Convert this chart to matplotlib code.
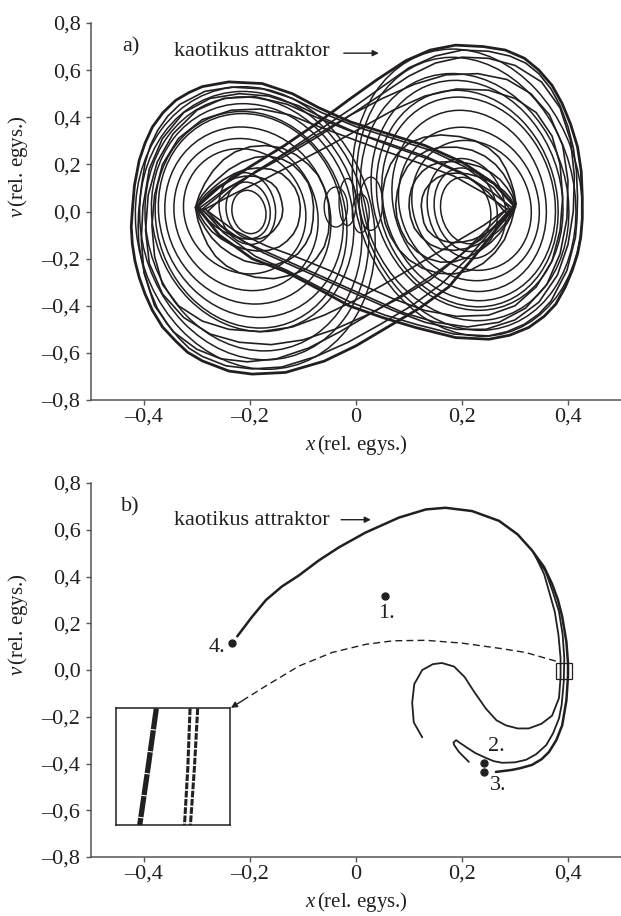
"""Chaotic attractor of a driven double-well oscillator: trajectory (a) and
stroboscopic snapshot (b), redrawn from traced values."""

import matplotlib

matplotlib.use("Agg")
import matplotlib.pyplot as plt
from matplotlib.patches import Ellipse, Rectangle

plt.rcParams["font.family"] = ["Liberation Serif", "DejaVu Serif"]
plt.rcParams["mathtext.fontset"] = "custom"
plt.rcParams["mathtext.rm"] = "Liberation Serif"
plt.rcParams["mathtext.it"] = "Liberation Serif:italic"

INK = "#231f20"
AXC = "#555555"
FS = 16

# --- axes ---
x_ticks = [-0.4, -0.2, 0.0, 0.2, 0.4]
x_ticklabels = ["\u20130,4", "\u20130,2", "0", "0,2", "0,4"]
y_ticks = [-0.8, -0.6, -0.4, -0.2, 0.0, 0.2, 0.4, 0.6, 0.8]
y_ticklabels = ["\u20130,8", "\u20130,6", "\u20130,4", "\u20130,2", "0,0",
                "0,2", "0,4", "0,6", "0,8"]
x_label = r"$x\,$(rel. egys.)"
y_label = r"$v\,$(rel. egys.)"
attractor_text = "kaotikus attraktor"

# --- panel a: loops around the wells (centre x, centre v, width, height) ---
left_cx = [-0.202, -0.2035, -0.205, -0.21, -0.2075, -0.204, -0.1985, -0.198,
           -0.195, -0.1935, -0.192, -0.19]
left_cv = [-0.002, 0.005, 0.0125, 0.001, -0.013, -0.017, -0.017, -0.035,
           -0.026, -0.0525, -0.06, -0.07]
left_w = [0.064, 0.083, 0.106, 0.23, 0.271, 0.312, 0.347, 0.36,
          0.38, 0.407, 0.43, 0.45]
left_h = [0.184, 0.24, 0.305, 0.532, 0.646, 0.752, 0.866, 0.92,
          0.968, 1.079, 1.14, 1.2]

right_cx = [0.207, 0.207, 0.2085, 0.218, 0.213, 0.2135, 0.2125, 0.21,
            0.2095, 0.205, 0.208, 0.21]
right_cv = [0.004, 0.0075, 0.0125, 0.026, 0.032, 0.045, 0.0535, 0.055,
            0.0685, 0.061, 0.075, 0.08]
right_w = [0.094, 0.118, 0.147, 0.224, 0.264, 0.289, 0.325, 0.34,
           0.359, 0.39, 0.41, 0.43]
right_h = [0.282, 0.355, 0.425, 0.552, 0.652, 0.77, 0.865, 0.92,
           0.977, 1.05, 1.16, 1.22]

# small loops near the barrier top
mid_cx = [-0.038, -0.016, 0.009, 0.028]
mid_cv = [0.019, 0.04, -0.008, 0.033]
mid_w = [0.044, 0.032, 0.032, 0.044]
mid_h = [0.17, 0.2, 0.165, 0.226]

# loops turning at the cusps (x, v)
right_tear_1 = [(0.301, 0.033), (0.296, 0.08), (0.289, 0.117), (0.278, 0.16), (0.263, 0.20),
                (0.243, 0.235), (0.219, 0.26), (0.19, 0.273), (0.157, 0.272), (0.133, 0.257),
                (0.113, 0.231), (0.097, 0.19), (0.085, 0.14), (0.078, 0.085), (0.075, 0.03),
                (0.077, -0.025), (0.085, -0.08), (0.097, -0.13), (0.115, -0.17), (0.136, -0.20),
                (0.16, -0.215), (0.186, -0.213), (0.21, -0.195), (0.234, -0.166), (0.255, -0.13),
                (0.272, -0.09), (0.285, -0.05), (0.295, -0.01), (0.301, 0.033)]
right_tear_2 = [(0.30, 0.03), (0.294, 0.068), (0.285, 0.10), (0.272, 0.135), (0.255, 0.165),
                (0.234, 0.19), (0.21, 0.205), (0.185, 0.212), (0.16, 0.21), (0.14, 0.195),
                (0.125, 0.17), (0.113, 0.137), (0.105, 0.10), (0.101, 0.06), (0.10, 0.02),
                (0.103, -0.025), (0.11, -0.07), (0.123, -0.108), (0.14, -0.14), (0.161, -0.16),
                (0.185, -0.165), (0.208, -0.157), (0.23, -0.14), (0.252, -0.112), (0.27, -0.08),
                (0.282, -0.05), (0.29, -0.02), (0.30, 0.03)]
right_tear_3 = [(0.298, 0.03), (0.29, 0.06), (0.28, 0.085), (0.266, 0.11), (0.25, 0.13),
                (0.23, 0.148), (0.21, 0.16), (0.19, 0.163), (0.17, 0.16), (0.153, 0.143),
                (0.14, 0.12), (0.13, 0.09), (0.125, 0.06), (0.123, 0.025), (0.125, -0.01),
                (0.128, -0.048), (0.135, -0.08), (0.148, -0.107), (0.165, -0.125), (0.182, -0.132),
                (0.20, -0.13), (0.22, -0.12), (0.24, -0.10), (0.258, -0.072), (0.275, -0.04),
                (0.288, -0.005), (0.298, 0.03)]
right_tear_4 = [(0.302, 0.033), (0.298, 0.085), (0.292, 0.13), (0.283, 0.18), (0.27, 0.23),
                (0.25, 0.27), (0.225, 0.30), (0.195, 0.318), (0.16, 0.325), (0.128, 0.315),
                (0.10, 0.29), (0.08, 0.25), (0.065, 0.20), (0.055, 0.14), (0.05, 0.08),
                (0.05, 0.015), (0.055, -0.05), (0.065, -0.105), (0.08, -0.16), (0.10, -0.205),
                (0.125, -0.24), (0.155, -0.262), (0.185, -0.265), (0.215, -0.25), (0.24, -0.22),
                (0.262, -0.175), (0.28, -0.12), (0.293, -0.045), (0.302, 0.033)]
left_tear_1 = [(-0.302, 0.017), (-0.296, -0.028), (-0.285, -0.07), (-0.272, -0.112), (-0.255, -0.15),
               (-0.234, -0.183), (-0.21, -0.21), (-0.18, -0.224), (-0.15, -0.225), (-0.128, -0.207),
               (-0.11, -0.18), (-0.095, -0.137), (-0.085, -0.09), (-0.081, -0.035), (-0.08, 0.02),
               (-0.083, 0.072), (-0.09, 0.12), (-0.103, 0.162), (-0.12, 0.20), (-0.14, 0.223),
               (-0.165, 0.235), (-0.19, 0.23), (-0.215, 0.21), (-0.24, 0.178), (-0.26, 0.14),
               (-0.277, 0.105), (-0.29, 0.07), (-0.298, 0.042), (-0.302, 0.017)]
left_tear_2 = [(-0.30, 0.017), (-0.294, -0.018), (-0.285, -0.05), (-0.272, -0.085), (-0.255, -0.115),
               (-0.234, -0.142), (-0.21, -0.16), (-0.186, -0.168), (-0.165, -0.165), (-0.145, -0.15),
               (-0.13, -0.125), (-0.118, -0.095), (-0.11, -0.06), (-0.106, -0.02), (-0.105, 0.02),
               (-0.108, 0.062), (-0.115, 0.10), (-0.126, 0.132), (-0.14, 0.16), (-0.16, 0.179),
               (-0.185, 0.185), (-0.21, 0.178), (-0.23, 0.16), (-0.252, 0.132), (-0.27, 0.10),
               (-0.283, 0.073), (-0.292, 0.05), (-0.30, 0.017)]
left_tear_3 = [(-0.298, 0.017), (-0.29, -0.01), (-0.28, -0.035), (-0.266, -0.062), (-0.25, -0.085),
               (-0.232, -0.103), (-0.215, -0.115), (-0.197, -0.118), (-0.18, -0.115), (-0.165, -0.10),
               (-0.155, -0.08), (-0.146, -0.053), (-0.14, -0.025), (-0.138, 0.008), (-0.14, 0.04),
               (-0.144, 0.072), (-0.15, 0.10), (-0.16, 0.122), (-0.175, 0.14), (-0.192, 0.15),
               (-0.21, 0.15), (-0.228, 0.142), (-0.245, 0.125), (-0.262, 0.103), (-0.275, 0.08),
               (-0.288, 0.05), (-0.298, 0.017)]
left_tear_4 = [(-0.303, 0.017), (-0.298, -0.04), (-0.29, -0.09), (-0.28, -0.14), (-0.265, -0.19),
               (-0.245, -0.23), (-0.22, -0.26), (-0.19, -0.279), (-0.155, -0.285), (-0.122, -0.27),
               (-0.095, -0.245), (-0.075, -0.20), (-0.06, -0.15), (-0.052, -0.09), (-0.05, -0.03),
               (-0.052, 0.035), (-0.06, 0.10), (-0.072, 0.155), (-0.09, 0.20), (-0.113, 0.24),
               (-0.14, 0.27), (-0.17, 0.28), (-0.20, 0.275), (-0.228, 0.253), (-0.25, 0.22),
               (-0.27, 0.172), (-0.285, 0.12), (-0.296, 0.068), (-0.303, 0.017)]

# big crossing loops: left cusp -> over the right well -> back
cross_r1 = [(-0.30, 0.02), (-0.26, 0.10), (-0.20, 0.19), (-0.135, 0.28), (-0.07, 0.38),
            (-0.01, 0.48), (0.04, 0.56), (0.094, 0.64), (0.14, 0.685), (0.188, 0.706),
            (0.24, 0.70), (0.282, 0.685), (0.318, 0.65), (0.345, 0.60), (0.37, 0.535),
            (0.389, 0.458), (0.405, 0.37), (0.418, 0.274), (0.425, 0.17), (0.427, 0.06),
            (0.427, -0.03), (0.424, -0.11), (0.418, -0.18), (0.408, -0.25), (0.395, -0.32),
            (0.377, -0.393), (0.355, -0.445), (0.326, -0.492), (0.29, -0.525), (0.251, -0.542),
            (0.188, -0.535), (0.112, -0.492), (0.05, -0.45), (-0.013, -0.40), (-0.07, -0.33),
            (-0.133, -0.255), (-0.196, -0.20), (-0.258, -0.10), (-0.30, 0.02)]
cross_r2 = [(-0.29, 0.01), (-0.24, 0.10), (-0.18, 0.18), (-0.12, 0.27), (-0.06, 0.36),
            (0.0, 0.45), (0.05, 0.53), (0.10, 0.61), (0.15, 0.66), (0.20, 0.685),
            (0.25, 0.68), (0.29, 0.66), (0.32, 0.63), (0.345, 0.585), (0.368, 0.52),
            (0.385, 0.45), (0.40, 0.36), (0.41, 0.27), (0.416, 0.17), (0.418, 0.06),
            (0.417, -0.03), (0.414, -0.11), (0.398, -0.25), (0.368, -0.38), (0.345, -0.435),
            (0.318, -0.478), (0.285, -0.51), (0.25, -0.528), (0.185, -0.52), (0.115, -0.48),
            (0.055, -0.44), (-0.01, -0.385), (-0.07, -0.32), (-0.13, -0.25), (-0.19, -0.19),
            (-0.25, -0.09), (-0.29, 0.01)]
cross_r3 = [(-0.28, 0.0), (-0.24, 0.085), (-0.19, 0.17), (-0.13, 0.25), (-0.07, 0.33),
            (-0.01, 0.41), (0.05, 0.48), (0.11, 0.54), (0.17, 0.58), (0.23, 0.585),
            (0.285, 0.56), (0.33, 0.50), (0.365, 0.41), (0.39, 0.28), (0.40, 0.13),
            (0.398, -0.03), (0.385, -0.18), (0.36, -0.31), (0.32, -0.41), (0.27, -0.47),
            (0.21, -0.49), (0.15, -0.47), (0.09, -0.43), (0.03, -0.37), (-0.03, -0.31),
            (-0.09, -0.25), (-0.15, -0.19), (-0.21, -0.13), (-0.255, -0.06), (-0.28, 0.0)]
cross_r4 = [(-0.295, 0.015), (-0.25, 0.09), (-0.19, 0.165), (-0.13, 0.24), (-0.07, 0.32),
            (-0.01, 0.41), (0.05, 0.50), (0.10, 0.575), (0.15, 0.63), (0.20, 0.655),
            (0.25, 0.65), (0.30, 0.62), (0.35, 0.55), (0.385, 0.44), (0.405, 0.30),
            (0.412, 0.15), (0.41, 0.0), (0.40, -0.14), (0.38, -0.27), (0.345, -0.385),
            (0.30, -0.46), (0.245, -0.50), (0.19, -0.50), (0.13, -0.47), (0.07, -0.42),
            (0.01, -0.36), (-0.05, -0.30), (-0.11, -0.24), (-0.175, -0.175), (-0.24, -0.09),
            (-0.295, 0.015)]
cross_r5 = [(-0.285, 0.01), (-0.23, 0.075), (-0.17, 0.14), (-0.11, 0.21), (-0.05, 0.28),
            (0.01, 0.355), (0.07, 0.43), (0.13, 0.49), (0.19, 0.52), (0.25, 0.515),
            (0.30, 0.48), (0.34, 0.42), (0.37, 0.32), (0.385, 0.20), (0.39, 0.06),
            (0.385, -0.08), (0.37, -0.21), (0.34, -0.32), (0.30, -0.40), (0.25, -0.44),
            (0.19, -0.445), (0.13, -0.42), (0.07, -0.37), (0.01, -0.31), (-0.05, -0.25),
            (-0.11, -0.195), (-0.17, -0.145), (-0.23, -0.08), (-0.285, 0.01)]
# right cusp -> under the left well -> back
cross_l1 = [(0.30, 0.02), (0.27, -0.06), (0.22, -0.20), (0.175, -0.32), (0.12, -0.41),
            (0.06, -0.49), (0.0, -0.57), (-0.06, -0.635), (-0.133, -0.683), (-0.196, -0.69),
            (-0.24, -0.677), (-0.29, -0.634), (-0.318, -0.597), (-0.34, -0.55), (-0.365, -0.49),
            (-0.384, -0.42), (-0.398, -0.35), (-0.409, -0.28), (-0.417, -0.21), (-0.422, -0.138),
            (-0.424, -0.065), (-0.422, 0.004), (-0.418, 0.11), (-0.409, 0.217), (-0.398, 0.29),
            (-0.384, 0.359), (-0.364, 0.42), (-0.34, 0.472), (-0.315, 0.505), (-0.29, 0.53),
            (-0.24, 0.55), (-0.177, 0.543), (-0.12, 0.50), (-0.07, 0.44), (-0.01, 0.38),
            (0.06, 0.33), (0.13, 0.28), (0.20, 0.21), (0.26, 0.12), (0.30, 0.02)]
cross_l2 = [(0.29, 0.01), (0.26, -0.07), (0.21, -0.20), (0.16, -0.31), (0.105, -0.40),
            (0.045, -0.48), (-0.015, -0.555), (-0.075, -0.615), (-0.14, -0.66), (-0.196, -0.668),
            (-0.245, -0.655), (-0.29, -0.615), (-0.315, -0.58), (-0.335, -0.535), (-0.357, -0.475),
            (-0.375, -0.41), (-0.388, -0.34), (-0.398, -0.27), (-0.405, -0.20), (-0.41, -0.13),
            (-0.411, -0.06), (-0.41, 0.0), (-0.405, 0.105), (-0.398, 0.205), (-0.388, 0.28),
            (-0.374, 0.345), (-0.355, 0.405), (-0.332, 0.455), (-0.285, 0.51), (-0.235, 0.528),
            (-0.175, 0.52), (-0.12, 0.48), (-0.065, 0.42), (0.0, 0.36), (0.07, 0.31),
            (0.14, 0.26), (0.205, 0.19), (0.26, 0.10), (0.29, 0.01)]
cross_l3 = [(0.28, 0.0), (0.245, -0.08), (0.195, -0.19), (0.14, -0.29), (0.08, -0.37),
            (0.02, -0.44), (-0.04, -0.50), (-0.10, -0.545), (-0.16, -0.565), (-0.22, -0.555),
            (-0.275, -0.52), (-0.325, -0.45), (-0.365, -0.35), (-0.39, -0.22), (-0.397, -0.08),
            (-0.392, 0.07), (-0.375, 0.21), (-0.345, 0.33), (-0.30, 0.43), (-0.25, 0.48),
            (-0.19, 0.487), (-0.13, 0.455), (-0.075, 0.40), (-0.015, 0.345), (0.06, 0.29),
            (0.13, 0.235), (0.20, 0.165), (0.25, 0.08), (0.28, 0.0)]
cross_l4 = [(0.295, 0.015), (0.255, -0.075), (0.20, -0.18), (0.145, -0.27), (0.09, -0.35),
            (0.03, -0.43), (-0.03, -0.51), (-0.09, -0.58), (-0.15, -0.625), (-0.205, -0.638),
            (-0.255, -0.625), (-0.30, -0.585), (-0.345, -0.51), (-0.38, -0.40), (-0.40, -0.26),
            (-0.405, -0.12), (-0.402, 0.02), (-0.39, 0.18), (-0.365, 0.31), (-0.325, 0.42),
            (-0.275, 0.48), (-0.22, 0.50), (-0.165, 0.49), (-0.11, 0.45), (-0.055, 0.39),
            (0.005, 0.33), (0.07, 0.275), (0.14, 0.22), (0.205, 0.155), (0.255, 0.085),
            (0.295, 0.015)]
cross_l5 = [(0.285, 0.01), (0.24, -0.06), (0.18, -0.14), (0.12, -0.22), (0.06, -0.30),
            (0.0, -0.375), (-0.06, -0.44), (-0.12, -0.49), (-0.18, -0.51), (-0.24, -0.50),
            (-0.29, -0.465), (-0.335, -0.40), (-0.365, -0.31), (-0.38, -0.19), (-0.385, -0.06),
            (-0.38, 0.07), (-0.365, 0.20), (-0.335, 0.31), (-0.29, 0.39), (-0.235, 0.43),
            (-0.18, 0.435), (-0.125, 0.41), (-0.07, 0.36), (-0.01, 0.31), (0.05, 0.26),
            (0.12, 0.205), (0.185, 0.15), (0.24, 0.08), (0.285, 0.01)]

# --- panel b: snapshot of the attractor ---
snap_main = [(-0.224, 0.144), (-0.197, 0.225), (-0.17, 0.299), (-0.14, 0.357), (-0.1075, 0.405),
             (-0.07, 0.469), (-0.032, 0.525), (0.018, 0.588), (0.081, 0.652), (0.132, 0.687),
             (0.169, 0.694), (0.219, 0.68), (0.27, 0.638), (0.305, 0.58), (0.332, 0.512),
             (0.355, 0.44), (0.37, 0.368), (0.381, 0.30), (0.389, 0.229), (0.397, 0.12),
             (0.40, 0.03), (0.40, -0.025), (0.397, -0.13), (0.389, -0.237), (0.378, -0.30),
             (0.364, -0.351), (0.35, -0.382), (0.332, -0.406), (0.31, -0.42), (0.294, -0.4275),
             (0.264, -0.436)]
snap_hairpin = [(0.335, 0.50), (0.358, 0.42), (0.372, 0.33), (0.383, 0.25), (0.39, 0.15),
                (0.393, 0.05), (0.392, -0.05), (0.388, -0.15), (0.383, -0.207), (0.372, -0.27),
                (0.359, -0.321), (0.34, -0.36), (0.321, -0.384), (0.30, -0.395), (0.276, -0.397),
                (0.26, -0.39), (0.245, -0.376), (0.225, -0.355), (0.208, -0.33), (0.195, -0.31),
                (0.189, -0.30), (0.184, -0.31), (0.185, -0.32), (0.194, -0.35), (0.205, -0.375),
                (0.213, -0.393)]
snap_fold = [(0.338, 0.49), (0.355, 0.41), (0.365, 0.33), (0.375, 0.25), (0.382, 0.15),
             (0.386, 0.05), (0.386, -0.03), (0.383, -0.12), (0.37, -0.195), (0.35, -0.23),
             (0.326, -0.25), (0.305, -0.25), (0.283, -0.237), (0.265, -0.215), (0.245, -0.165),
             (0.222, -0.09), (0.205, -0.03), (0.185, 0.015), (0.162, 0.03), (0.145, 0.025),
             (0.125, 0.0), (0.11, -0.06), (0.106, -0.14), (0.109, -0.224), (0.125, -0.288)]
snap_dash = [(0.377, 0.038), (0.32, 0.075), (0.27, 0.093), (0.20, 0.115), (0.132, 0.127),
             (0.07, 0.125), (0.019, 0.11), (-0.045, 0.075), (-0.1075, 0.017), (-0.17, -0.068),
             (-0.205, -0.118)]
dash_tip = (-0.236, -0.162)

point_x = [0.055, 0.2415, 0.2415, -0.234]
point_v = [0.317, -0.398, -0.436, 0.114]
point_labels = ["1.", "2.", "3.", "4."]
label_x = [0.057, 0.264, 0.268, -0.262]
label_v = [0.241, -0.326, -0.495, 0.097]

zoom_box = (0.377, -0.038, 0.031, 0.068)      # x0, v0, width, height
inset_box = (-0.453, -0.664, 0.215, 0.50)
# strands inside the magnified window (axes fraction)
inset_thick = [(0.355, 1.0), (0.282, 0.49), (0.209, 0.0)]
inset_thin_1 = [(0.651, 1.0), (0.631, 0.49), (0.602, 0.0)]
inset_thin_2 = [(0.718, 1.0), (0.689, 0.49), (0.654, 0.0)]


def _style(ax):
    ax.set_xlim(-0.5, 0.5)
    ax.set_ylim(-0.8, 0.8)
    for s in ("top", "right"):
        ax.spines[s].set_visible(False)
    for s in ("left", "bottom"):
        ax.spines[s].set_color(AXC)
        ax.spines[s].set_linewidth(1.1)
    ax.set_xticks(x_ticks, x_ticklabels)
    ax.set_yticks(y_ticks, y_ticklabels)
    ax.tick_params(direction="out", length=3.6, width=1.0, color=AXC,
                   labelsize=FS, labelcolor=INK)
    ax.tick_params(axis="y", pad=4)
    ax.tick_params(axis="x", pad=2)
    ax.set_xlabel(x_label, fontsize=FS - 1, color=INK)
    ax.set_ylabel(y_label, fontsize=FS - 1, color=INK)
    ax.xaxis.set_label_coords(0.5, -0.088)
    ax.yaxis.set_label_coords(-0.115, 0.62)


def _curve(ax, pts, **kw):
    xs = [p[0] for p in pts]
    vs = [p[1] for p in pts]
    ax.plot(xs, vs, color=INK, solid_joinstyle="round", solid_capstyle="round", **kw)


def _title(ax, letter, text_v, arrow):
    ax.text(-0.425, 0.70, letter, fontsize=FS, color=INK, ha="center", va="center")
    ax.text(-0.343, text_v, attractor_text, fontsize=FS, color=INK, ha="left", va="center")
    ax.annotate("", xy=(arrow[1], arrow[2]), xytext=(arrow[0], arrow[2]),
                arrowprops=dict(arrowstyle="-|>", color=INK, lw=1.0, mutation_scale=9,
                                shrinkA=0, shrinkB=0))


def panel_a(ax):
    for cx, cv, w, h in zip(left_cx, left_cv, left_w, left_h):
        ax.add_patch(Ellipse((cx, cv), w, h, angle=2.5, fill=False, ec=INK, lw=1.1))
    for cx, cv, w, h in zip(right_cx, right_cv, right_w, right_h):
        ax.add_patch(Ellipse((cx, cv), w, h, angle=3.0, fill=False, ec=INK, lw=1.1))
    for cx, cv, w, h in zip(mid_cx, mid_cv, mid_w, mid_h):
        ax.add_patch(Ellipse((cx, cv), w, h, fill=False, ec=INK, lw=1.0))
    for loop in (right_tear_1, right_tear_2, right_tear_3, right_tear_4,
                 left_tear_1, left_tear_2, left_tear_3, left_tear_4):
        _curve(ax, loop, lw=1.2)
    for loop in (cross_r2, cross_r3, cross_r4, cross_r5,
                 cross_l2, cross_l3, cross_l4, cross_l5):
        _curve(ax, loop, lw=1.2)
    for loop in (cross_r1, cross_l1):
        _curve(ax, loop, lw=2.0)
    _style(ax)
    _title(ax, "a)", 0.677, (-0.023, 0.043, 0.672))


def panel_b(ax):
    _curve(ax, snap_main, lw=1.8)
    _curve(ax, snap_hairpin, lw=1.3)
    _curve(ax, snap_fold, lw=1.3)
    ax.plot([p[0] for p in snap_dash], [p[1] for p in snap_dash],
            color=INK, lw=1.0, ls=(0, (5, 3)))
    ax.annotate("", xy=dash_tip, xytext=snap_dash[-1],
                arrowprops=dict(arrowstyle="-|>", color=INK, lw=1.0, mutation_scale=9,
                                shrinkA=0, shrinkB=0))
    ax.plot(point_x, point_v, "o", color=INK, ms=5)
    for lx, lv, t in zip(label_x, label_v, point_labels):
        ax.text(lx, lv, t, fontsize=FS, color=INK, ha="center", va="center")
    x0, v0, w, h = zoom_box
    ax.add_patch(Rectangle((x0, v0), w, h, fill=False, ec=INK, lw=0.9))

    ins = ax.inset_axes(inset_box, transform=ax.transData)
    ins.set_xlim(0, 1)
    ins.set_ylim(0, 1)
    ins.set_xticks([])
    ins.set_yticks([])
    for s in ins.spines.values():
        s.set_color(INK)
        s.set_linewidth(1.1)
    ins.plot([p[0] for p in inset_thick], [p[1] for p in inset_thick], color=INK,
             lw=3.8, ls=(0, (4.0, 0.2)))
    for strand in (inset_thin_1, inset_thin_2):
        ins.plot([p[0] for p in strand], [p[1] for p in strand], color=INK,
                 lw=2.2, ls=(0, (2.2, 0.5)))
    _style(ax)
    _title(ax, "b)", 0.639, (-0.028, 0.028, 0.643))


fig = plt.figure(figsize=(6.21, 9.16), dpi=100)
ax_a = fig.add_axes([0.1465, 0.5633, 0.8535, 0.4116])
ax_b = fig.add_axes([0.1465, 0.0644, 0.8535, 0.4083])
panel_a(ax_a)
panel_b(ax_b)
fig.savefig("out.png", dpi=100)
